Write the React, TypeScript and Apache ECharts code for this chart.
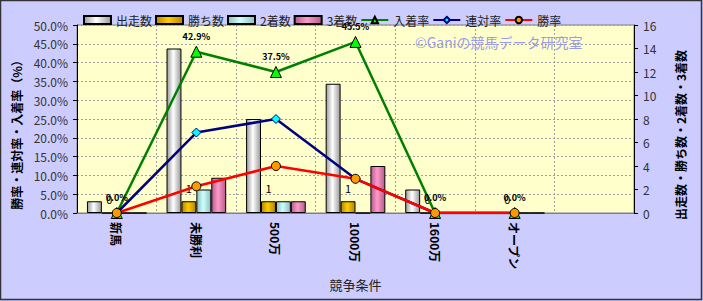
import React, { useEffect, useRef } from "react";
import * as echarts from "echarts";

const categories = ["新馬", "未勝利", "500万", "1000万", "1600万", "オープン", ""];
const runs = [1, 14, 8, 11, 2, 0];
const wins = [0, 1, 1, 1, 0, 0];
const seconds = [0, 2, 1, 0, 0, 0];
const thirds = [0, 3, 1, 4, 0, 0];
const placeRate = [0, 42.9, 37.5, 45.5, 0, 0];
const rentaiRate = [0, 21.4, 25.0, 9.1, 0, 0];
const winRate = [0, 7.1, 12.5, 9.1, 0, 0];
const leftTicks = { min: 0, max: 50, interval: 5 };
const rightTicks = { min: 0, max: 16, interval: 2 };

const FONT = "'Noto Sans CJK JP', 'Noto Sans', sans-serif";

function grad(edge: string, mid: string) {
  return new echarts.graphic.LinearGradient(0, 0, 1, 0, [
    { offset: 0, color: edge },
    { offset: 0.45, color: mid },
    { offset: 1, color: edge },
  ]);
}

export default function App() {
  const ref = useRef<HTMLDivElement>(null);
  useEffect(() => {
    document.body.style.margin = "0";
    const chart = echarts.init(ref.current!, undefined, { renderer: "svg" });
    const barBase = {
      type: "bar",
      yAxisIndex: 1,
      barGap: "0%",
      barCategoryGap: "25%",
    };
    chart.setOption({
      animation: false,
      backgroundColor: "#CCCCFF",
      textStyle: { fontFamily: FONT },
      grid: {
        left: 77,
        right: 69,
        top: 25,
        bottom: 88,
        show: true,
        backgroundColor: "#FFFFCC",
        borderColor: "#808080",
        borderWidth: 1,
      },
      legend: {
        top: 9,
        left: 78,
        itemWidth: 27,
        itemHeight: 8,
        itemGap: 3,
        textStyle: { fontSize: 12, color: "#222", fontFamily: FONT },
        data: [
          { name: "出走数", icon: "rect" },
          { name: "勝ち数", icon: "rect" },
          { name: "2着数", icon: "rect" },
          { name: "3着数", icon: "rect" },
          "入着率",
          "連対率",
          "勝率",
        ],
      },
      graphic: [
        {
          type: "text",
          left: 415,
          top: 35,
          silent: true,
          style: {
            text: "©Ganiの競馬データ研究室",
            fill: "#9A9AEE",
            fontSize: 14,
            fontFamily: FONT,
          },
        },
        {
          type: "rect",
          shape: { x: 0.5, y: 0.5, width: 701, height: 299 },
          style: { fill: "none", stroke: "#333", lineWidth: 1.5 },
          silent: true,
        },
      ],
      xAxis: {
        type: "category",
        data: categories,
        boundaryGap: true,
        name: "競争条件",
        nameLocation: "middle",
        nameGap: 63,
        nameTextStyle: { fontSize: 13, color: "#222", fontFamily: FONT },
        axisLine: { lineStyle: { color: "#808080" } },
        axisTick: { show: false },
        splitLine: { show: true, lineStyle: { color: "#A0A0A0", type: [2, 2] } },
        axisLabel: {
          rotate: -90,
          interval: 0,
          margin: 9,
          fontSize: 12,
          color: "#000",
          fontWeight: "bold",
          fontFamily: FONT,
        },
      },
      yAxis: [
        {
          type: "value",
          ...leftTicks,
          name: "勝率・連対率・入着率（%）",
          nameLocation: "middle",
          nameRotate: 90,
          nameGap: 50,
          nameTextStyle: { fontSize: 12, color: "#000", fontWeight: "bold", fontFamily: FONT, padding: [0, 26, 0, 0] },
          axisLine: { show: true, lineStyle: { color: "#000" } },
          axisTick: { show: true, inside: false, length: 4, lineStyle: { color: "#000" } },
          splitLine: { show: true, lineStyle: { color: "#A0A0A0", type: [2, 2] } },
          axisLabel: {
            formatter: (v: number) => v.toFixed(1) + "%",
            fontSize: 12,
            color: "#333",
            margin: 9,
            fontFamily: FONT,
          },
        },
        {
          type: "value",
          ...rightTicks,
          position: "right",
          name: "出走数・勝ち数・2着数・3着数",
          nameLocation: "middle",
          nameRotate: 90,
          nameGap: 40,
          nameTextStyle: { fontSize: 12, color: "#000", fontWeight: "bold", fontFamily: FONT, padding: [0, 32, 0, 0] },
          axisLine: { show: true, lineStyle: { color: "#000" } },
          axisTick: { show: true, inside: false, length: 4, lineStyle: { color: "#000" } },
          splitLine: { show: false },
          axisLabel: { fontSize: 12, color: "#333", margin: 9, fontFamily: FONT },
        },
      ],
      series: [
        {
          ...barBase,
          name: "出走数",
          data: runs,
          itemStyle: { color: grad("#9A9A9A", "#FFFFFF"), borderColor: "#000", borderWidth: 1 },
        },
        {
          ...barBase,
          name: "勝ち数",
          data: wins,
          itemStyle: { color: grad("#B38600", "#FFCC00"), borderColor: "#000", borderWidth: 1 },
          label: {
            show: true,
            position: "top",
            distance: 8,
            fontSize: 11,
            color: "#000",
            fontFamily: FONT,
          },
        },
        {
          ...barBase,
          name: "2着数",
          data: seconds,
          itemStyle: { color: grad("#8FBFBF", "#CCFFFF"), borderColor: "#000", borderWidth: 1 },
        },
        {
          ...barBase,
          name: "3着数",
          data: thirds,
          itemStyle: { color: grad("#B35C8A", "#FF99CC"), borderColor: "#000", borderWidth: 1 },
        },
        {
          type: "line",
          name: "入着率",
          yAxisIndex: 0,
          data: placeRate,
          symbol: "triangle",
          symbolSize: 11,
          lineStyle: { color: "#008000", width: 2.5 },
          itemStyle: { color: "#00FF00", borderColor: "#000", borderWidth: 1 },
          label: {
            show: true,
            position: "top",
            distance: 5,
            fontSize: 9,
            fontWeight: "bold",
            color: "#000",
            formatter: (p: any) => Number(p.value).toFixed(1) + "%",
            fontFamily: FONT,
          },
        },
        {
          type: "line",
          name: "連対率",
          yAxisIndex: 0,
          data: rentaiRate,
          symbol: "diamond",
          symbolSize: 9,
          lineStyle: { color: "#000080", width: 2.5 },
          itemStyle: { color: "#00FFFF", borderColor: "#000080", borderWidth: 1 },
        },
        {
          type: "line",
          name: "勝率",
          yAxisIndex: 0,
          data: winRate,
          symbol: "circle",
          symbolSize: 9,
          lineStyle: { color: "#FF0000", width: 2.5 },
          itemStyle: { color: "#FF9900", borderColor: "#000", borderWidth: 1 },
        },
      ],
    });
    return () => chart.dispose();
  }, []);
  return (
    <div
      ref={ref}
      style={{ position: "absolute", left: 0, top: 0, width: 703, height: 301 }}
    />
  );
}
